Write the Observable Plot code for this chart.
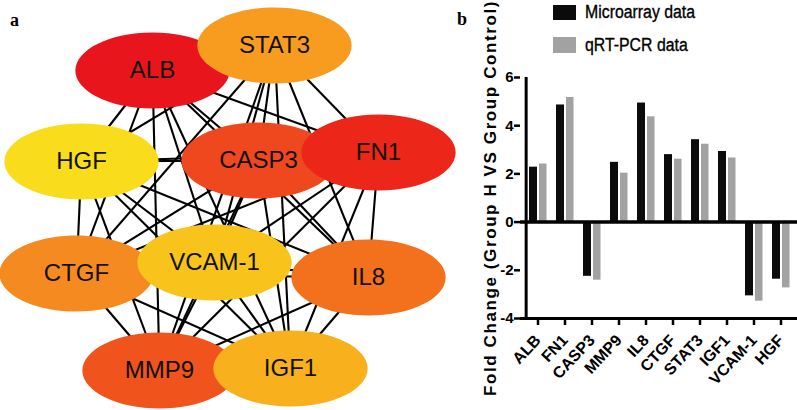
<!DOCTYPE html>
<html><head><meta charset="utf-8">
<script src="https://cdn.jsdelivr.net/npm/d3@7"></script>
<script src="https://cdn.jsdelivr.net/npm/@observablehq/plot@0.6"></script>
<style>
html,body{margin:0;padding:0;background:#fff;}
#wrap{position:relative;width:797px;height:410px;overflow:hidden;background:#fff;font-family:"Liberation Sans",Arial,Helvetica,sans-serif;}
#pa{position:absolute;left:0;top:0;}
#pb{position:absolute;left:450px;top:0;}
.plab{position:absolute;font:bold 18px/18px "Liberation Serif","Times New Roman",serif;color:#000;}
.sw{position:absolute;left:553px;width:23px;}
.lt{position:absolute;left:585px;font:18px/18px "Liberation Sans",Arial,sans-serif;color:#000;white-space:nowrap;transform:scaleX(0.88);transform-origin:0 0;-webkit-text-stroke:0.35px #000;}
</style></head>
<body>
<div id="wrap">
  <div id="pa"></div>
  <div id="pb"></div>
  <div class="plab" style="left:10px;top:11px;">a</div>
  <div class="plab" style="left:457px;top:10px;">b</div>
  <div class="sw" style="top:5px;height:15px;background:#0b0b0b;"></div>
  <div class="sw" style="top:37px;height:16px;background:#a2a2a2;"></div>
  <div class="lt" style="top:3px;">Microarray data</div>
  <div class="lt" style="top:36px;">qRT-PCR data</div>
</div>
<script>
// ---------- Panel a: network ----------
const nodeNames = ["ALB","STAT3","HGF","CASP3","FN1","CTGF","VCAM-1","IL8","MMP9","IGF1"];
const nodeX     = [152, 274, 81, 258, 378, 76, 214, 368, 159, 290];
const nodeY     = [70, 45, 161, 160, 152, 273, 262, 277, 370, 368];
// ranking (red = highest score -> yellow = lowest)
const rankOrder = ["ALB","FN1","CASP3","MMP9","IL8","CTGF","STAT3","IGF1","VCAM-1","HGF"];
const edgeSource = [
  "ALB","ALB","ALB","ALB","ALB","ALB","ALB","ALB","ALB",
  "STAT3","STAT3","STAT3","STAT3","STAT3","STAT3","STAT3","STAT3",
  "HGF","HGF","HGF","HGF","HGF","HGF","HGF",
  "CASP3","CASP3","CASP3","CASP3","CASP3","CASP3",
  "FN1","FN1","FN1","FN1","FN1",
  "CTGF","CTGF","CTGF","CTGF",
  "VCAM-1","VCAM-1","VCAM-1",
  "IL8","IL8",
  "MMP9"];
const edgeTarget = [
  "STAT3","HGF","CASP3","FN1","CTGF","VCAM-1","IL8","MMP9","IGF1",
  "HGF","CASP3","FN1","CTGF","VCAM-1","IL8","MMP9","IGF1",
  "CASP3","FN1","CTGF","VCAM-1","IL8","MMP9","IGF1",
  "FN1","CTGF","VCAM-1","IL8","MMP9","IGF1",
  "CTGF","VCAM-1","IL8","MMP9","IGF1",
  "VCAM-1","IL8","MMP9","IGF1",
  "IL8","MMP9","IGF1",
  "MMP9","IGF1",
  "IGF1"];

const nodes = nodeNames.map((g, i) => ({gene: g, x: nodeX[i], y: nodeY[i]}));
const pos = Object.fromEntries(nodes.map(n => [n.gene, n]));
const edges = edgeSource.map((s, i) => ({s: pos[s], t: pos[edgeTarget[i]]}));

const K = 0.5522847498;
const ellipse = {
  draw(context, size) {
    const ry = Math.sqrt(size / Math.PI), rx = ry * 2.03;
    context.moveTo(rx, 0);
    context.bezierCurveTo(rx, K * ry, K * rx, ry, 0, ry);
    context.bezierCurveTo(-K * rx, ry, -rx, K * ry, -rx, 0);
    context.bezierCurveTo(-rx, -K * ry, -K * rx, -ry, 0, -ry);
    context.bezierCurveTo(K * rx, -ry, rx, -K * ry, rx, 0);
    context.closePath();
  }
};

const pa = Plot.plot({
  width: 460, height: 410,
  margin: 0,
  style: {background: "transparent", fontFamily: "Liberation Sans, Arial, Helvetica, sans-serif"},
  x: {axis: null, domain: [0, 460], range: [0, 460]},
  y: {axis: null, domain: [0, 410], range: [0, 410]},
  color: {type: "ordinal", domain: rankOrder,
          range: ["#e8161c","#ec2619","#ef481e","#f0541c","#f3701d","#f58a20","#f79c1f","#f8b01c","#f8c41c","#f9dc1c"]},
  marks: [
    Plot.link(edges, {x1: d => d.s.x, y1: d => d.s.y, x2: d => d.t.x, y2: d => d.t.y,
                      stroke: "#000", strokeWidth: 2.1}),
    Plot.dot(nodes, {x: "x", y: "y", r: 38, symbol: ellipse, fill: "gene", stroke: "none"}),
    Plot.text(nodes, {x: "x", y: "y", text: "gene", fontSize: 24, fill: "#111"})
  ]
});
document.getElementById("pa").appendChild(pa);

// ---------- Panel b: grouped bars ----------
const genes = ["ALB","FN1","CASP3","MMP9","IL8","CTGF","STAT3","IGF1","VCAM-1","HGF"];
const microarray = [2.28, 4.86, -2.25, 2.48, 4.94, 2.80, 3.42, 2.93, -3.06, -2.37];
const qrtpcr     = [2.41, 5.17, -2.41, 2.03, 4.37, 2.61, 3.23, 2.66, -3.28, -2.73];
const yTicks = [-4, -2, 0, 2, 4, 6];
const yTitle = "Fold Change (Group H VS Group Control)";

const rows = genes.map((g, i) => ({gene: g, micro: microarray[i], pcr: qrtpcr[i]}));
const W = 347, ML = 70;
const bw = (W - ML) / genes.length;

const pb = Plot.plot({
  width: W, height: 410,
  marginLeft: ML, marginRight: 0, marginTop: 77, marginBottom: 92,
  style: {background: "transparent", fontFamily: "Liberation Sans, Arial, Helvetica, sans-serif", color: "#000"},
  x: {domain: genes, padding: 0, axis: null},
  y: {domain: [-4, 6], axis: null},
  marks: [
    Plot.barY(rows, {x: "gene", y: "micro", fill: "#0b0b0b", insetLeft: 5, insetRight: 14}),
    Plot.barY(rows, {x: "gene", y: "pcr", fill: "#a2a2a2", insetLeft: 15, insetRight: 4.5}),
    Plot.ruleY([0], {stroke: "#000", strokeWidth: 3.5}),
    Plot.ruleY([-4], {stroke: "#000", strokeWidth: 3}),
    Plot.ruleX([genes[0]], {y1: -4, y2: 6, dx: -bw / 2 + 2, stroke: "#000", strokeWidth: 3}),
    Plot.axisY(yTicks, {tickSize: 6, strokeWidth: 2.5, tickPadding: 1, fontSize: 15, fontWeight: "bold",
                        label: null, tickFormat: d => String(d)}),
    Plot.axisX({tickSize: 7, strokeWidth: 2.5, tickRotate: -47, tickPadding: 12, fontSize: 16,
                fontWeight: "bold", label: null}),
    Plot.text([yTitle], {frameAnchor: "left", textAnchor: "middle", rotate: -90, dx: -30, fontSize: 17,
                         fontWeight: "bold", fill: "#000"})
  ]
});
pb.querySelectorAll("text").forEach(t => {
  if (t.textContent === yTitle) t.setAttribute("letter-spacing", "1.6");
});
document.getElementById("pb").appendChild(pb);
</script>
</body></html>
